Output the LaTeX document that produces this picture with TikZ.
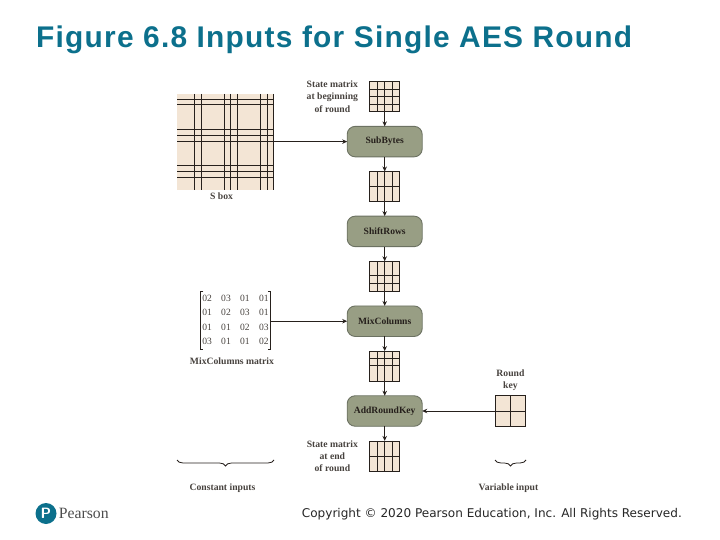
\documentclass[tikz,border=0pt]{standalone}
\usepackage{fontspec}
\setmainfont{Liberation Serif}
\newfontfamily\titlefont[LetterSpace=4.1]{Liberation Sans}
\newfontfamily\footfont{DejaVu Sans}
\usetikzlibrary{arrows.meta,positioning,calc,decorations.pathreplacing}
\definecolor{aesteal}{RGB}{12,112,140}
\definecolor{aescell}{RGB}{243,229,213}
\definecolor{aesstage}{RGB}{152,158,132}
\definecolor{aesedge}{RGB}{108,114,98}
\definecolor{aesink}{RGB}{38,32,28}

\begin{document}
\begin{tikzpicture}[
  x=1bp, y=-1bp,
  node distance=14.65bp,
  statebox/.style={draw=aesink, fill=aescell, line width=0.8bp, minimum width=30bp,
              minimum height=30bp, inner sep=0pt, outer sep=0pt},
  stage/.style={draw=aesedge, fill=aesstage, line width=0.9bp, rounded corners=8bp,
              minimum width=75bp, minimum height=30.5bp, inner sep=0pt, outer sep=0pt,
              text=aesink, font=\fontsize{9.6}{10}\selectfont\bfseries},
  lbl/.style={align=center, inner sep=0pt, text=aesink!85,
              font=\fontsize{9.7}{12.2}\selectfont\bfseries},
  gridline/.style={draw=aesink, line width=0.8bp},
  arr/.style={-{Stealth[length=5bp,width=4.5bp]}, draw=aesink, line width=0.8bp},
  curly/.style={decorate, decoration={brace, amplitude=6bp}, draw=aesink, line width=0.8bp}]

\useasboundingbox (0,0) rectangle (720,540);

\node[anchor=base west, inner sep=0pt, text=aesteal, font=\fontsize{30}{34}\selectfont\titlefont\bfseries]
  (title) at (36,48) {Figure 6.8 Inputs for Single AES Round};

% main column
\node[statebox] (s0) at (384.7,96.7) {};
\node[stage, below=of s0] (sub) {SubBytes};
\node[statebox, below=of sub] (s1) {};
\node[stage, below=of s1] (shift) {ShiftRows};
\node[statebox, below=of shift] (s2) {};
\node[stage, below=of s2] (mix) {MixColumns};
\node[statebox, below=of mix] (s3) {};
\node[stage, below=of s3] (add) {AddRoundKey};
\node[statebox, below=of add] (s4) {};

\foreach \cell/\rows in {s0/{7.5,15,22.5}, s1/{15}, s2/{14.3,22}, s3/{7.3,14.3}, s4/{15}} {
  \foreach \x in {7.5,15,22.5}
    \draw[gridline] ($(\cell.north west)+(\x,0)$) -- ($(\cell.south west)+(\x,0)$);
  \foreach \y in \rows
    \draw[gridline] ($(\cell.north west)+(0,\y)$) -- ($(\cell.north east)+(0,\y)$);
}

\foreach \a/\b in {s0/sub, sub/s1, s1/shift, shift/s2, s2/mix, mix/s3, s3/add, add/s4}
  \draw[arr] (\a) -- (\b);

\node[lbl, left=11.5bp of s0] (lblbegin) {State matrix\\at beginning\\of round};
\node[lbl, left=11.5bp of s4] (lblend) {State matrix\\at end\\of round};

% s box
\node[fill=aescell, minimum width=97bp, minimum height=96bp, inner sep=0pt, outer sep=0pt] (sbox) at (225.5,142) {};
\foreach \x in {17.3,24.3,47.3,53.3,60,83.3,90,96.7}
  \draw[gridline] ($(sbox.north west)+(\x,0)$) -- ($(sbox.south west)+(\x,0)$);
\foreach \y in {5.3,10.7,35.3,41.3,47.3,71.3,77.3,83.7}
  \draw[gridline] ($(sbox.north west)+(0,\y)$) -- ($(sbox.north east)+(0,\y)$);
\node[lbl, below=3bp of sbox, xshift=-4bp] (lblsbox) {S box};
\draw[arr, line width=1.3bp] (sub.west -| sbox.east) -- (sub.west);

% mixcolumns matrix
\node[minimum width=70.5bp, minimum height=55bp, inner sep=0pt, outer sep=0pt, text=aesink!85,
      font=\fontsize{9.6}{11}\selectfont] (mixmat) at (235.5,320.3)
  {\renewcommand{\arraystretch}{1.32}\setlength{\tabcolsep}{4.7bp}%
   \begin{tabular}{@{}cccc@{}}
   02 & 03 & 01 & 01\\
   01 & 02 & 03 & 01\\
   01 & 01 & 02 & 03\\
   03 & 01 & 01 & 02
   \end{tabular}};
\draw[gridline] ($(mixmat.north west)+(3,0)$) -- (mixmat.north west) -- (mixmat.south west) -- ++(3,0);
\draw[gridline] ($(mixmat.north east)+(-3,0)$) -- (mixmat.north east) -- (mixmat.south east) -- ++(-3,0);
\node[lbl, below=8bp of mixmat, xshift=-3.5bp] (lblmix) {MixColumns matrix};
\draw[arr] (mix.west -| mixmat.east) -- (mix.west);

% round key
\node[statebox, minimum width=30.5bp, minimum height=30.5bp, right=73bp of add] (key) {};
\draw[gridline] (key.north) -- (key.south);
\draw[gridline] (key.west) -- (key.east);
\node[lbl, above=4.5bp of key] (lblkey) {Round\\key};
\draw[arr] (key) -- (add);

% braces
\coordinate (constR) at (274,460);
\coordinate (constL) at (177,460);
\coordinate (varR) at (526,460);
\coordinate (varL) at (495,460);
\draw[curly] (constR) -- (constL);
\draw[curly] (varR) -- (varL);
\node[lbl] (lblconst) at (222.5,488) {Constant inputs};
\node[lbl] (lblvar) at (508.5,488) {Variable input};

% footer
\node[circle, fill=aesteal, minimum size=21bp, inner sep=0pt, text=white,
      font=\fontsize{15}{15}\selectfont\sffamily\bfseries] (logo) at (46,513.5) {P};
\node[right=2bp of logo, inner sep=0pt, text=black!70, font=\fontsize{15.8}{17}\selectfont] (pearson) {Pearson};
\node[anchor=base east, inner sep=0pt, text=black!85, font=\fontsize{12.1}{14}\selectfont\footfont]
  (copyright) at (682,517.5) {Copyright © 2020 Pearson Education, Inc. All Rights Reserved.};
\end{tikzpicture}
\end{document}
